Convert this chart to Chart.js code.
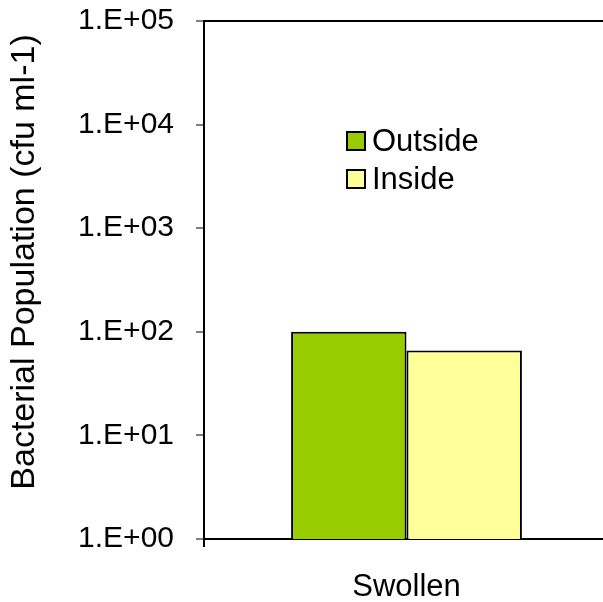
<!DOCTYPE html>
<html lang="en">
<head>
  <meta charset="UTF-8">
  <title>Bacterial Population</title>
  <script src="https://cdn.jsdelivr.net/npm/chart.js"></script>
  <style>
    body {
      margin: 0;
      background: #fff;
      overflow: hidden;
    }
    #wrap {
      width: 603px;
      height: 602px;
      overflow: hidden;
    }
  </style>
</head>
<body>
  <div id="wrap">
    <canvas id="barChart" width="612" height="602"></canvas>
  </div>

  <script>
    const categories = ["Swollen"];
    const seriesNames = ["Outside", "Inside"];
    const outsideValues = [100];
    const insideValues = [66];
    const tickValues = [1, 10, 100, 1000, 10000, 100000];
    const tickLabels = ["1.E+00", "1.E+01", "1.E+02", "1.E+03", "1.E+04", "1.E+05"];
    const yTitle = "Bacterial Population (cfu ml-1)";

    const font = "'Liberation Sans', Arial, sans-serif";

    // legend drawn inside the plot, like the original
    const innerLegend = {
      id: "innerLegend",
      afterDraw(chart) {
        const ctx = chart.ctx;
        ctx.save();
        ctx.font = "31px " + font;
        ctx.textBaseline = "middle";
        chart.data.datasets.forEach((ds, i) => {
          const y = 141 + i * 38;
          ctx.fillStyle = ds.backgroundColor;
          ctx.fillRect(347, y - 9, 18, 18);
          ctx.lineWidth = 2;
          ctx.strokeStyle = "#000";
          ctx.strokeRect(347, y - 9, 18, 18);
          ctx.fillStyle = "#000";
          ctx.fillText(ds.label, 372, y + 1);
        });
        ctx.restore();
      }
    };

    // top/right frame and the rotated axis title (sits a bit above centre in the original)
    const frame = {
      id: "frame",
      afterDraw(chart) {
        const a = chart.chartArea;
        const ctx = chart.ctx;
        ctx.save();
        ctx.strokeStyle = "#000";
        ctx.lineWidth = 2;
        ctx.beginPath();
        ctx.moveTo(a.left, a.top);
        ctx.lineTo(a.right, a.top);
        ctx.lineTo(a.right, a.bottom);
        ctx.stroke();

        ctx.translate(25, 262);
        ctx.rotate(-Math.PI / 2);
        ctx.font = "34px " + font;
        ctx.fillStyle = "#000";
        ctx.textAlign = "center";
        ctx.textBaseline = "middle";
        ctx.fillText(yTitle, 0, 0);
        ctx.restore();
      }
    };

    new Chart(document.getElementById("barChart").getContext("2d"), {
      type: "bar",
      data: {
        labels: categories,
        datasets: [
          {
            label: seriesNames[0],
            data: outsideValues,
            backgroundColor: "#99CC00",
            borderColor: "#000",
            borderWidth: 2
          },
          {
            label: seriesNames[1],
            data: insideValues,
            backgroundColor: "#FFFF99",
            borderColor: "#000",
            borderWidth: 2
          }
        ]
      },
      options: {
        responsive: false,
        animation: false,
        layout: { padding: { top: 21, right: 3, left: 0, bottom: 0 } },
        datasets: {
          bar: { categoryPercentage: 0.57, barPercentage: 1 }
        },
        plugins: {
          legend: { display: false },
          tooltip: { enabled: false }
        },
        scales: {
          x: {
            grid: {
              offset: true,
              drawOnChartArea: false,
              tickLength: 8,
              color: "#000",
              lineWidth: 2
            },
            border: { color: "#000", width: 2 },
            ticks: {
              color: "#000",
              padding: 22,
              font: { family: font, size: 31 }
            },
            afterFit(scale) {
              scale.height = 63;
              scale.paddingLeft = 0;
              scale.paddingRight = 0;
            }
          },
          y: {
            type: "logarithmic",
            min: 1,
            max: 100000,
            afterBuildTicks(scale) {
              scale.ticks = tickValues.map(v => ({ value: v }));
            },
            ticks: {
              color: "#000",
              padding: 22,
              font: { family: font, size: 30 },
              callback: (v) => tickLabels[tickValues.indexOf(v)]
            },
            grid: {
              drawOnChartArea: false,
              tickLength: 8,
              color: "#808080",
              lineWidth: 2
            },
            border: { color: "#000", width: 2 },
            afterFit(scale) {
              scale.width = 204;
              scale.paddingTop = 0;
              scale.paddingBottom = 0;
            }
          }
        }
      },
      plugins: [innerLegend, frame]
    });
  </script>
</body>
</html>
